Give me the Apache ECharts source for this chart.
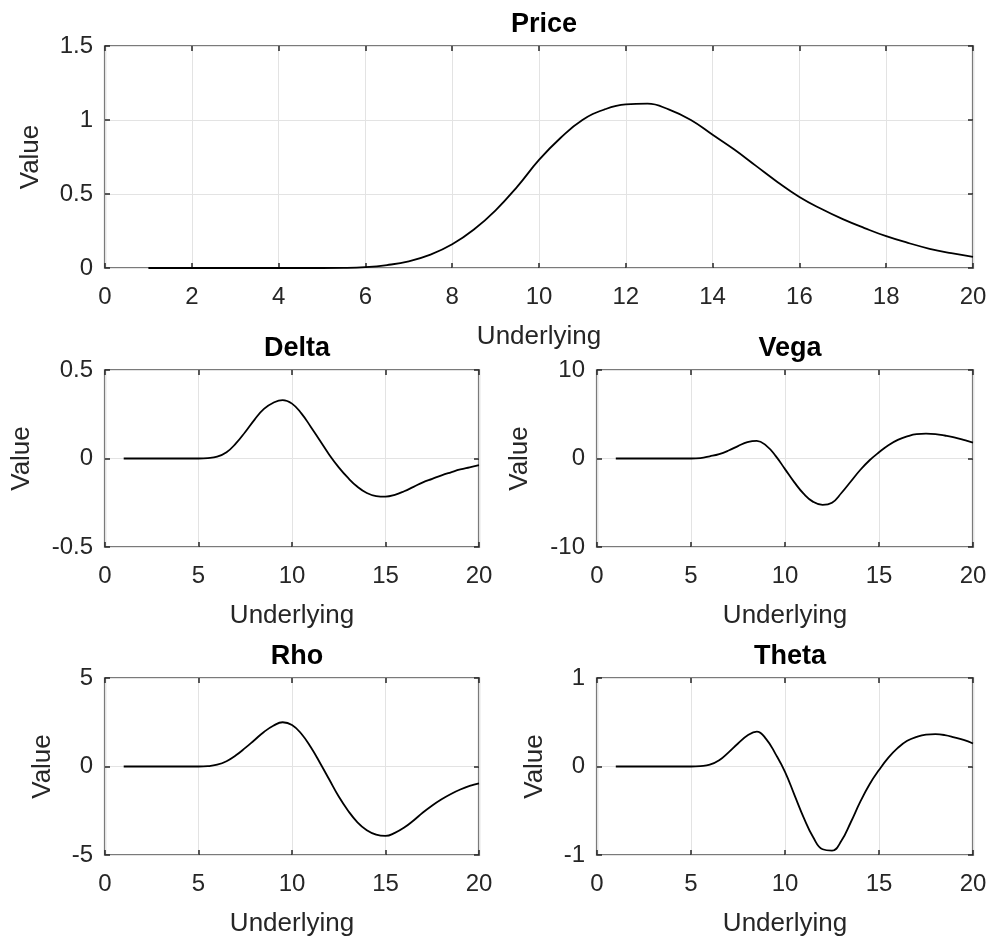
<!DOCTYPE html>
<html lang="en">
<head>
    <meta charset="UTF-8">
    <title>Option sensitivities</title>
    <style>
        html, body { margin: 0; padding: 0; background: #fff; }
        #box { width: 991px; height: 941px; }
    </style>
</head>
<body>
    <div id="box"></div>
    <script src="https://cdn.jsdelivr.net/npm/echarts@6/dist/echarts.min.js"></script>
    <script>
        // underlying price values (x axis)
        var underlying = [1, 2, 3, 4, 5, 5.5, 6, 6.5, 7, 7.5, 8, 8.5, 9, 9.5, 10, 10.5, 11, 11.5, 12, 12.5,
            13, 13.5, 14, 14.5, 15, 15.5, 16, 16.5, 17, 17.5, 18, 18.5, 19, 19.5, 20];

        // values
        var price = [0, 0, 0, 0, 0, 0.001, 0.006, 0.02, 0.045, 0.09, 0.16, 0.26, 0.39, 0.55, 0.73, 0.88, 1.0, 1.07, 1.105, 1.11,
            1.07, 1.0, 0.9, 0.8, 0.69, 0.58, 0.48, 0.4, 0.33, 0.27, 0.215, 0.17, 0.13, 0.1, 0.075];
        var delta = [0, 0, 0, 0, 0, 0.002, 0.01, 0.035, 0.085, 0.15, 0.22, 0.28, 0.315, 0.33, 0.31, 0.255, 0.18, 0.1, 0.02, -0.05,
            -0.11, -0.16, -0.195, -0.212, -0.215, -0.205, -0.185, -0.16, -0.135, -0.115, -0.095, -0.078, -0.062, -0.05, -0.038];
        var vega = [0, 0, 0, 0, 0, 0.05, 0.25, 0.5, 0.9, 1.4, 1.85, 2.0, 1.45, 0.3, -1.2, -2.7, -4.0, -4.9, -5.25, -5.0,
            -3.9, -2.6, -1.3, -0.2, 0.7, 1.5, 2.1, 2.5, 2.75, 2.8, 2.75, 2.6, 2.4, 2.1, 1.8];
        var rho = [0, 0, 0, 0, 0, 0.02, 0.1, 0.3, 0.63, 1.05, 1.5, 1.95, 2.3, 2.5, 2.35, 1.85, 1.1, 0.2, -0.75, -1.7,
            -2.5, -3.15, -3.6, -3.85, -3.92, -3.75, -3.45, -3.05, -2.6, -2.2, -1.85, -1.55, -1.3, -1.1, -0.95];
        var theta = [0, 0, 0, 0, 0, 0.005, 0.02, 0.07, 0.16, 0.26, 0.35, 0.395, 0.31, 0.14, -0.06, -0.32, -0.58, -0.8, -0.935, -0.95,
            -0.84, -0.63, -0.4, -0.2, -0.04, 0.1, 0.21, 0.29, 0.335, 0.36, 0.365, 0.355, 0.33, 0.3, 0.26];

        var panelNames = ['Price', 'Delta', 'Vega', 'Rho', 'Theta'];
        var panelValues = [price, delta, vega, rho, theta];
        // y ranges [min, max, interval] and x tick interval
        var yRanges = [[0, 1.5, 0.5], [-0.5, 0.5, 0.5], [-10, 10, 10], [-5, 5, 5], [-1, 1, 1]];
        var xIntervals = [2, 5, 5, 5, 5];

        // layout of each axes box
        var boxes = [
            { left: 105, top: 46, width: 868, height: 222, yGap: 61 },
            { left: 105, top: 370, width: 374, height: 177, yGap: 70 },
            { left: 597, top: 370, width: 376, height: 177, yGap: 64 },
            { left: 105, top: 678, width: 374, height: 177, yGap: 49 },
            { left: 597, top: 678, width: 376, height: 177, yGap: 49 }
        ];

        var font = 'Liberation Sans, Arial, Helvetica, sans-serif';
        var frameColor = '#7a7a7a';
        var gridColor = '#e3e3e3';
        var textColor = '#262626';

        var grids = [], xAxes = [], yAxes = [], series = [], titles = [];

        boxes.forEach(function (b, i) {
            grids.push({
                left: b.left, top: b.top, width: b.width, height: b.height,
                show: true, borderColor: frameColor, borderWidth: 2.2, backgroundColor: '#fff',
                containLabel: false
            });
            titles.push({
                text: panelNames[i],
                left: b.left + b.width / 2,
                top: b.top - 40,
                textAlign: 'center',
                textStyle: { fontFamily: font, fontSize: 27, fontWeight: 'bold', color: '#000' }
            });
            var tick = { show: true, inside: true, length: 5, lineStyle: { color: textColor, width: 1.5 } };
            // bottom x axis with labels
            xAxes.push({
                gridIndex: i, type: 'value', min: 0, max: 20, interval: xIntervals[i], position: 'bottom',
                name: 'Underlying', nameLocation: 'middle', nameGap: 56,
                nameTextStyle: { fontFamily: font, fontSize: 26, color: textColor },
                axisLine: { show: false, onZero: false },
                axisTick: tick,
                axisLabel: { fontFamily: font, fontSize: 24, color: textColor, margin: 17 },
                splitLine: { show: true, lineStyle: { color: gridColor, width: 1 } }
            });
            // top x axis for the mirrored ticks
            xAxes.push({
                gridIndex: i, type: 'value', min: 0, max: 20, interval: xIntervals[i], position: 'top',
                axisLine: { show: false, onZero: false }, axisTick: tick, axisLabel: { show: false }, splitLine: { show: false }
            });
            var r = yRanges[i];
            yAxes.push({
                gridIndex: i, type: 'value', min: r[0], max: r[1], interval: r[2], position: 'left',
                name: 'Value', nameLocation: 'middle', nameGap: b.yGap, nameRotate: 90,
                nameTextStyle: { fontFamily: font, fontSize: 26, color: textColor },
                axisLine: { show: false, onZero: false },
                axisTick: tick,
                axisLabel: { fontFamily: font, fontSize: 24, color: textColor, margin: 12 },
                splitLine: { show: true, lineStyle: { color: gridColor, width: 1 } }
            });
            yAxes.push({
                gridIndex: i, type: 'value', min: r[0], max: r[1], interval: r[2], position: 'right',
                axisLine: { show: false, onZero: false }, axisTick: tick, axisLabel: { show: false }, splitLine: { show: false }
            });
            series.push({
                name: panelNames[i],
                type: 'line',
                xAxisIndex: i * 2,
                yAxisIndex: i * 2,
                data: underlying.map(function (x, k) { return [x, panelValues[i][k]]; }),
                smooth: 0.45,
                symbol: 'none',
                lineStyle: { color: '#000', width: 1.8 },
                z: 5
            });
        });

        var myChart = echarts.init(document.getElementById('box'), null, { renderer: 'canvas' });
        var option = {
            backgroundColor: '#fff',
            animation: false,
            title: titles,
            grid: grids,
            xAxis: xAxes,
            yAxis: yAxes,
            series: series
        };
        option && myChart.setOption(option);
    </script>
</body>
</html>
